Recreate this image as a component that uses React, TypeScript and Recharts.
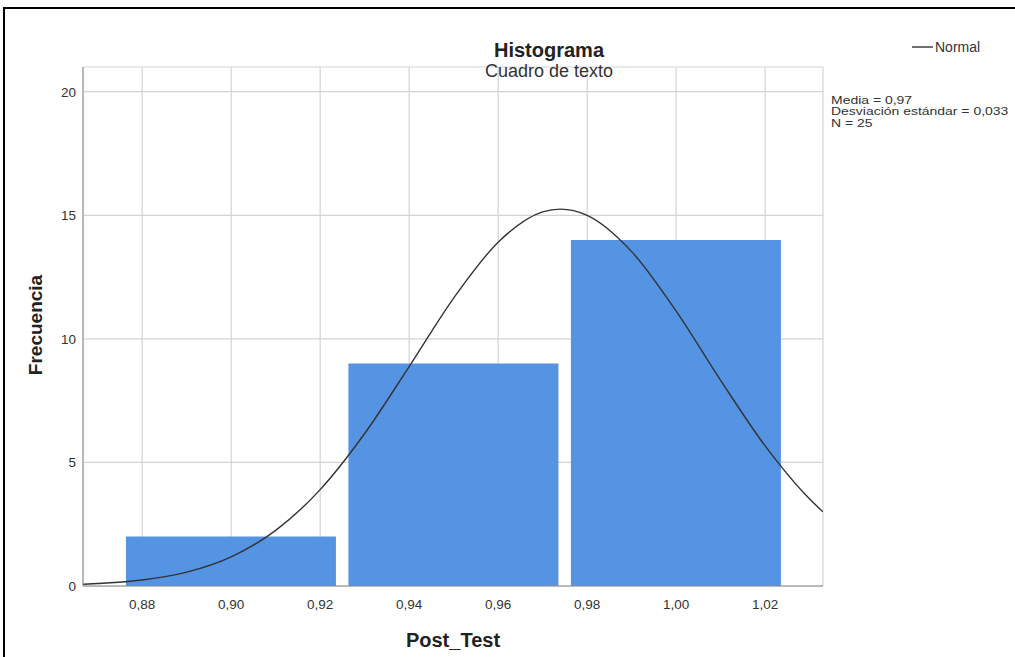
import React from 'react';
import { ComposedChart, Bar, Line, XAxis, YAxis, CartesianGrid } from 'recharts';

// histogram bins (centres) and frequencies
const binMids = [0.9, 0.95, 1.0];
const binCounts = [2, 9, 14];

// normal curve
const curveX = [0.8667, 0.87, 0.88, 0.89, 0.9, 0.91, 0.92, 0.93, 0.94, 0.95, 0.96, 0.97, 0.974, 0.98, 0.99, 1.0, 1.01, 1.02, 1.03, 1.033];
const curveY = [0.07, 0.1, 0.24, 0.56, 1.18, 2.25, 3.9, 6.17, 8.88, 11.65, 13.91, 15.14, 15.25, 15.0, 13.53, 11.12, 8.32, 5.67, 3.52, 3.0];

const xTicks = [0.88, 0.9, 0.92, 0.94, 0.96, 0.98, 1.0, 1.02];
const yTicks = [0, 5, 10, 15, 20];
const xDomain = [0.8667, 1.033];

const stats = ['Media = 0,97', 'Desviación estándar = 0,033', 'N = 25'];

const bins = binMids.map((mid, i) => ({ mid, count: binCounts[i] }));
const curve = curveX.map((x, i) => ({ x, y: curveY[i] }));

const FONT = '"Liberation Sans", Arial, sans-serif';
const fmt = (v: number) => v.toFixed(2).replace('.', ',');

const App: React.FC = () => {
  return (
    <div style={{ position: 'absolute', left: 0, top: 0, width: 1015, height: 657, background: '#fff', overflow: 'hidden', fontFamily: FONT }}>
      <div style={{ position: 'absolute', left: 3, top: 7, width: 1030, height: 700, borderLeft: '2px solid #000', borderTop: '2px solid #000' }} />
      <ComposedChart
        width={1015}
        height={657}
        data={bins}
        margin={{ top: 67, right: 192, bottom: 0, left: 0 }}
        barCategoryGap="2.7%"
        style={{ position: 'absolute', left: 0, top: 0 }}
      >
        <CartesianGrid xAxisId="bins" stroke="#d4d4d4" strokeWidth={1.2} />
        <XAxis
          xAxisId="bins"
          type="number"
          dataKey="mid"
          domain={xDomain}
          allowDataOverflow
          ticks={xTicks}
          tickFormatter={fmt}
          height={71}
          tickLine={false}
          tickMargin={7}
          axisLine={{ stroke: '#8a8a8a' }}
          tick={{ fontSize: 13.5, fill: '#333', fontFamily: FONT }}
        />
        <XAxis xAxisId="curve" type="number" dataKey="x" domain={xDomain} allowDataOverflow hide />
        <YAxis
          type="number"
          domain={[0, 21]}
          ticks={yTicks}
          width={83}
          tickLine={false}
          tickMargin={1}
          axisLine={{ stroke: '#8a8a8a' }}
          tick={{ fontSize: 13.5, fill: '#333', fontFamily: FONT }}
        />
        <Bar xAxisId="bins" dataKey="count" fill="#5593e3" isAnimationActive={false} />
        <Line
          xAxisId="curve"
          data={curve}
          dataKey="y"
          type="monotone"
          stroke="#333"
          strokeWidth={1.4}
          dot={false}
          activeDot={false}
          isAnimationActive={false}
        />
      </ComposedChart>
      <svg width={1015} height={657} style={{ position: 'absolute', left: 0, top: 0, pointerEvents: 'none' }}>
        <text x={549} y={57} textAnchor="middle" fontSize={20} fontWeight="bold" fill="#222" fontFamily={FONT}>Histograma</text>
        <text x={549} y={77} textAnchor="middle" fontSize={18} fill="#333" fontFamily={FONT}>Cuadro de texto</text>
        <line x1={912} y1={47} x2={933} y2={47} stroke="#333" strokeWidth={1.4} />
        <text x={935} y={52} fontSize={14} fill="#333" fontFamily={FONT}>Normal</text>
        <g transform="translate(831,0) scale(1.27,1)">
          {stats.map((s, i) => (
            <text key={s} x={0} y={104 + i * 11.5} fontSize={11} fill="#333" fontFamily={FONT}>{s}</text>
          ))}
        </g>
        <text x={453} y={647} textAnchor="middle" fontSize={20} fontWeight="bold" fill="#222" fontFamily={FONT}>Post_Test</text>
        <text transform="translate(42,325) rotate(-90)" textAnchor="middle" fontSize={19} fontWeight="bold" fill="#222" fontFamily={FONT}>Frecuencia</text>
      </svg>
    </div>
  );
};

export default App;
